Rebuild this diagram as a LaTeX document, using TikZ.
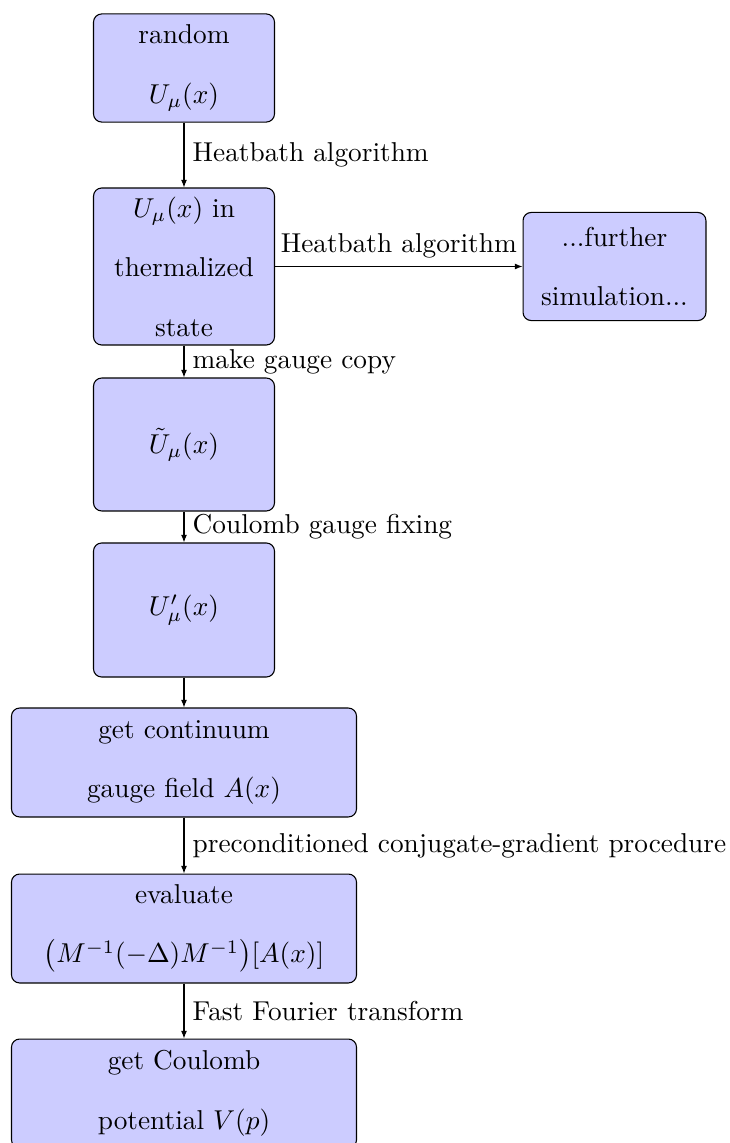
\documentclass[tikz,border=0pt]{standalone}
\usetikzlibrary{arrows.meta}
\begin{document}
\begin{tikzpicture}[x=0.3663pt,y=-0.3663pt,
  box/.style={draw=black, fill=blue!20, rounded corners=3pt, line width=0.4pt,
    inner sep=0pt, align=center, minimum width=#1},
  box/.default=66.3pt,
  conn/.style={-{Latex[length=2.8pt,width=2.2pt]}, line width=0.4pt},
  lbl/.style={inner sep=3pt}]
\useasboundingbox (0,0) rectangle (730,1143);
\node[box, minimum height=39.6pt] (b1) at (184,68) {random\\[9.8pt]$U_\mu(x)$};
\node[box, minimum height=57.5pt] (b2) at (184,266.5) {$U_\mu(x)$ in\\[9.8pt]thermalized\\[9.8pt]state};
\node[box=67pt, minimum height=39.6pt] (r) at (614.5,266.5) {...further\\[9.8pt]simulation...};
\node[box, minimum height=48.7pt] (b3) at (184,444.5) {$\tilde U_\mu(x)$};
\node[box, minimum height=49.1pt] (b4) at (184,610) {$U'_\mu(x)$};
\node[box=126.4pt, minimum height=39.9pt] (b5) at (184,762.5) {get continuum\\[9.8pt]gauge field $A(x)$};
\node[box=126.4pt, minimum height=39.9pt] (b6) at (184,928.5) {evaluate\\[9.8pt]$\bigl(M^{-1}(-\Delta)M^{-1}\bigr)[A(x)]$};
\node[box=126.4pt, minimum height=39.9pt] (b7) at (184,1093.5) {get Coulomb\\[9.8pt]potential $V(p)$};
\draw[conn] (b1.south) -- node[lbl, right] {Heatbath algorithm} (b2.north);
\draw[conn] (b2.east) -- node[lbl, above] {Heatbath algorithm} (r.west);
\draw[conn] (b2.south) -- node[lbl, right] {make gauge copy} (b3.north);
\draw[conn] (b3.south) -- node[lbl, right] {Coulomb gauge fixing} (b4.north);
\draw[conn] (b4.south) -- (b5.north);
\draw[conn] (b5.south) -- node[lbl, right] {preconditioned conjugate-gradient procedure} (b6.north);
\draw[conn] (b6.south) -- node[lbl, right] {Fast Fourier transform} (b7.north);
\end{tikzpicture}
\end{document}
